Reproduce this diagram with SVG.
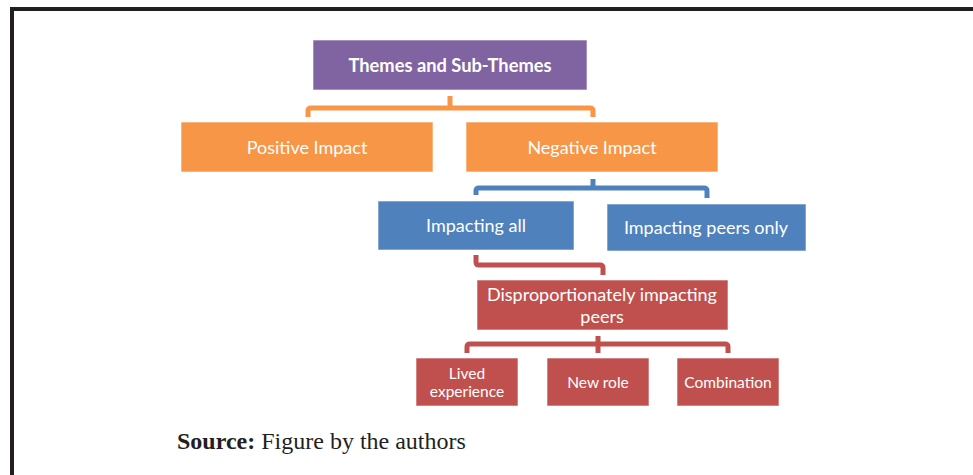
<svg xmlns="http://www.w3.org/2000/svg" width="973" height="475" viewBox="0 0 973 475">
<style>
.box{stroke:#ffffff;stroke-opacity:0.6;stroke-width:1}
.t{font-family:Lato,"Open Sans","Liberation Sans",sans-serif;fill:#ffffff;text-anchor:middle;dominant-baseline:central}
.m{font-size:18px}
.s{font-size:15.5px}
.conn{fill:none;stroke-width:5;stroke-linejoin:round;stroke-linecap:butt}
</style>
<rect x="0" y="0" width="973" height="475" fill="#ffffff"/>
<path d="M12,475 V9 H973" fill="none" stroke="#231f20" stroke-width="4"/>
<g id="connectors">
<path class="conn" stroke="#F79646" d="M308,117 V111 Q308,108 311,108 H590 Q593,108 593,111 V117 M450,96 V108"/>
<path class="conn" stroke="#4F81BD" d="M476,195 V191 Q476,188 479,188 H704 Q707,188 707,191 V198 M593,179 V188"/>
<path class="conn" stroke="#C0504D" d="M476,255 V262 Q476,265 479,265 H600 Q603,265 603,268 V275"/>
<path class="conn" stroke="#C0504D" d="M467,353 V347 Q467,344 470,344 H725 Q728,344 728,347 V353 M598,336 V353"/>
</g>
<g id="themes"><rect class="box" x="313" y="40" width="274" height="50" fill="#8064A2"/><text class="t" x="450" y="65" font-size="18.3" font-weight="bold">Themes and Sub-Themes</text></g>
<g id="positive"><rect class="box" x="181" y="122" width="252" height="50" fill="#F79646"/><text class="t m" x="307" y="147">Positive Impact</text></g>
<g id="negative"><rect class="box" x="466" y="122" width="252" height="50" fill="#F79646"/><text class="t m" x="592" y="147">Negative Impact</text></g>
<g id="impacting-all"><rect class="box" x="378" y="201" width="196" height="49" fill="#4F81BD"/><text class="t m" x="476" y="225">Impacting all</text></g>
<g id="impacting-peers-only"><rect class="box" x="607" y="204" width="199" height="47" fill="#4F81BD"/><text class="t m" x="706" y="227">Impacting peers only</text></g>
<g id="disproportionately"><rect class="box" x="477" y="280" width="251" height="50" fill="#C0504D"/><text class="t m" x="602" y="294">Disproportionately impacting</text><text class="t m" x="602" y="316">peers</text></g>
<g id="lived"><rect class="box" x="416" y="358" width="102" height="48" fill="#C0504D"/><text class="t s" x="467" y="373">Lived</text><text class="t s" x="467" y="391">experience</text></g>
<g id="new-role"><rect class="box" x="547" y="358" width="102" height="48" fill="#C0504D"/><text class="t s" x="598" y="382">New role</text></g>
<g id="combination"><rect class="box" x="677" y="358" width="102" height="48" fill="#C0504D"/><text class="t s" x="728" y="382">Combination</text></g>
<text x="177" y="449" font-family="'Liberation Serif',serif" font-size="24" fill="#231f20"><tspan font-weight="bold">Source:</tspan> Figure by the authors</text>
</svg>
